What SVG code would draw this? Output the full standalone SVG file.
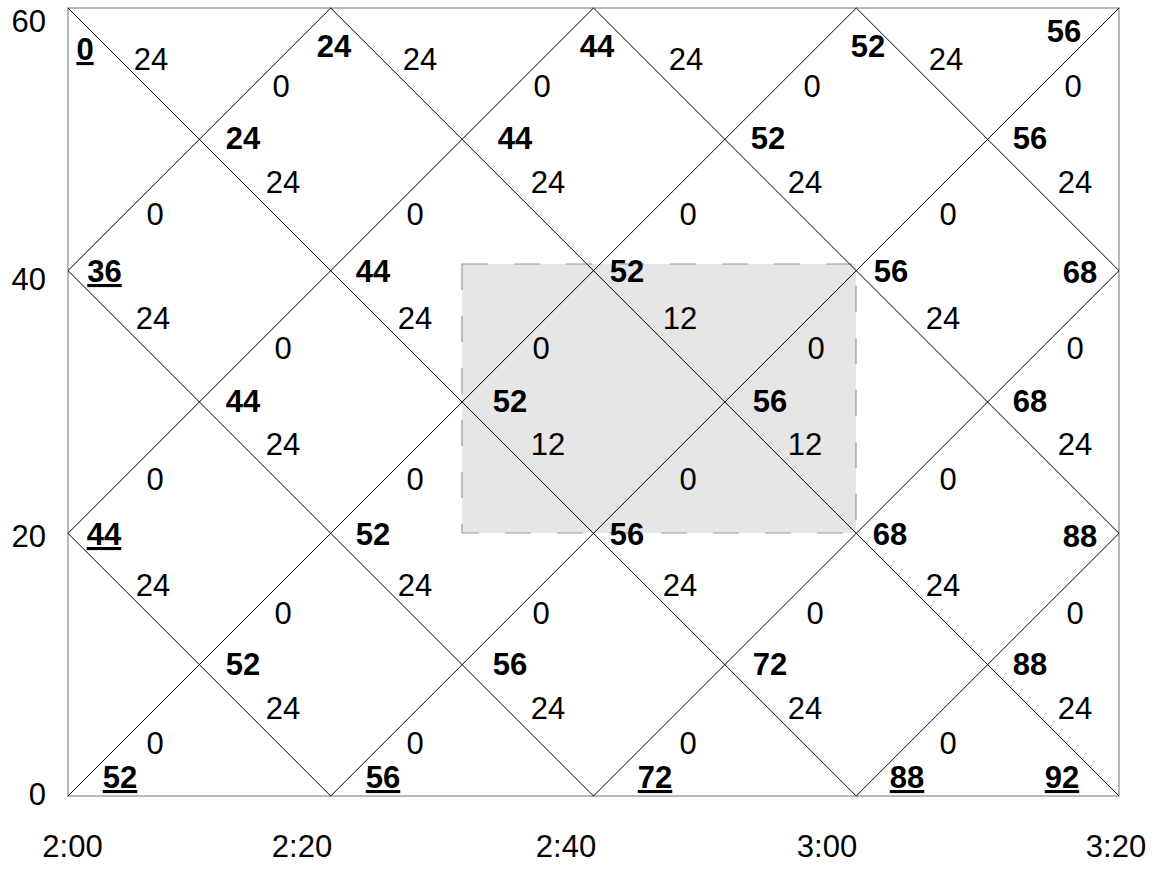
<svg xmlns="http://www.w3.org/2000/svg" width="1159" height="869" viewBox="0 0 1159 869">
<style>
text{font-family:"Liberation Sans",Arial,sans-serif;font-size:31px;fill:#000}
.n{font-weight:bold;text-anchor:middle}
.u{font-weight:bold;text-anchor:middle;text-decoration:underline}
.w{text-anchor:middle}
.ay{text-anchor:end}
.ax{text-anchor:middle}
.frame{fill:none;stroke:#a0a0a0;stroke-width:1.5}
.diag{stroke:#000;stroke-width:1;fill:none}
.shade{fill:#e6e6e6;stroke:#999;stroke-width:1.2;stroke-dasharray:26 26}
</style>
<rect width="1159" height="869" fill="#fff"/>
<g id="highlight">
<rect class="shade" x="462" y="264" width="394" height="269"/>
</g>
<g id="frame">
<rect class="frame" x="68" y="8" width="1051" height="788"/>
</g>
<g id="connectors">
<path class="diag" d="M68,8L856.25,796M68,270.67L593.5,796M68,533.33L330.75,796M330.75,8L1119,796M593.5,8L1119,533.33M856.25,8L1119,270.67M68,796L856.25,8M68,533.33L593.5,8M68,270.67L330.75,8M330.75,796L1119,8M593.5,796L1119,270.67M856.25,796L1119,533.33"/>
</g>
<g id="edge-labels">
<text class="w" x="151" y="70">24</text><text class="w" x="420" y="70">24</text><text class="w" x="686" y="70">24</text><text class="w" x="946" y="70">24</text>
<text class="w" x="281" y="97">0</text><text class="w" x="542" y="97">0</text><text class="w" x="812" y="97">0</text><text class="w" x="1073" y="97">0</text>
<text class="w" x="283" y="193">24</text><text class="w" x="548" y="193">24</text><text class="w" x="805" y="193">24</text><text class="w" x="1075" y="193">24</text>
<text class="w" x="155" y="225">0</text><text class="w" x="415" y="225">0</text><text class="w" x="688" y="225">0</text><text class="w" x="948" y="225">0</text>
<text class="w" x="153" y="329">24</text><text class="w" x="415" y="329">24</text><text class="w" x="680" y="329">12</text><text class="w" x="943" y="329">24</text>
<text class="w" x="283" y="359">0</text><text class="w" x="541" y="359">0</text><text class="w" x="816" y="359">0</text><text class="w" x="1075" y="359">0</text>
<text class="w" x="283" y="455">24</text><text class="w" x="548" y="455">12</text><text class="w" x="805" y="455">12</text><text class="w" x="1075" y="455">24</text>
<text class="w" x="155" y="490">0</text><text class="w" x="415" y="490">0</text><text class="w" x="688" y="490">0</text><text class="w" x="948" y="490">0</text>
<text class="w" x="153" y="596">24</text><text class="w" x="415" y="596">24</text><text class="w" x="680" y="596">24</text><text class="w" x="943" y="596">24</text>
<text class="w" x="283" y="624">0</text><text class="w" x="541" y="624">0</text><text class="w" x="815" y="624">0</text><text class="w" x="1075" y="624">0</text>
<text class="w" x="283" y="719">24</text><text class="w" x="548" y="719">24</text><text class="w" x="805" y="719">24</text><text class="w" x="1075" y="719">24</text>
<text class="w" x="155" y="754">0</text><text class="w" x="415" y="754">0</text><text class="w" x="688" y="754">0</text><text class="w" x="948" y="754">0</text>
</g>
<g id="n-0-60"><text class="u" x="85" y="60">0</text></g>
<g id="n-20-60"><text class="n" x="334" y="57">24</text></g>
<g id="n-40-60"><text class="n" x="597" y="57">44</text></g>
<g id="n-60-60"><text class="n" x="868" y="57">52</text></g>
<g id="n-80-60"><text class="n" x="1064" y="42">56</text></g>
<g id="n-10-50"><text class="n" x="243" y="149">24</text></g>
<g id="n-30-50"><text class="n" x="515" y="149">44</text></g>
<g id="n-50-50"><text class="n" x="768" y="149">52</text></g>
<g id="n-70-50"><text class="n" x="1030" y="149">56</text></g>
<g id="n-0-40"><text class="u" x="104.5" y="282">36</text></g>
<g id="n-20-40"><text class="n" x="373" y="282">44</text></g>
<g id="n-40-40"><text class="n" x="627" y="282">52</text></g>
<g id="n-60-40"><text class="n" x="891" y="282">56</text></g>
<g id="n-80-40"><text class="n" x="1080" y="283">68</text></g>
<g id="n-10-30"><text class="n" x="243" y="412">44</text></g>
<g id="n-30-30"><text class="n" x="510" y="412">52</text></g>
<g id="n-50-30"><text class="n" x="770" y="412">56</text></g>
<g id="n-70-30"><text class="n" x="1030" y="412">68</text></g>
<g id="n-0-20"><text class="u" x="104" y="545">44</text></g>
<g id="n-20-20"><text class="n" x="373" y="545">52</text></g>
<g id="n-40-20"><text class="n" x="627" y="545">56</text></g>
<g id="n-60-20"><text class="n" x="890" y="545">68</text></g>
<g id="n-80-20"><text class="n" x="1080" y="547">88</text></g>
<g id="n-10-10"><text class="n" x="243" y="675">52</text></g>
<g id="n-30-10"><text class="n" x="510" y="675">56</text></g>
<g id="n-50-10"><text class="n" x="770" y="675">72</text></g>
<g id="n-70-10"><text class="n" x="1030" y="675">88</text></g>
<g id="n-0-0"><text class="u" x="120" y="788">52</text></g>
<g id="n-20-0"><text class="u" x="383" y="788">56</text></g>
<g id="n-40-0"><text class="u" x="655" y="788">72</text></g>
<g id="n-60-0"><text class="u" x="907" y="788">88</text></g>
<g id="n-80-0"><text class="u" x="1062" y="788">92</text></g>
<g id="axes">
<text class="ay" x="46" y="32">60</text>
<text class="ay" x="46" y="290">40</text>
<text class="ay" x="46" y="547">20</text>
<text class="ay" x="46" y="805">0</text>
<text class="ax" x="72.5" y="857">2:00</text>
<text class="ax" x="302" y="857">2:20</text>
<text class="ax" x="566" y="857">2:40</text>
<text class="ax" x="827" y="857">3:00</text>
<text class="ax" x="1116" y="857">3:20</text>
</g>
</svg>
